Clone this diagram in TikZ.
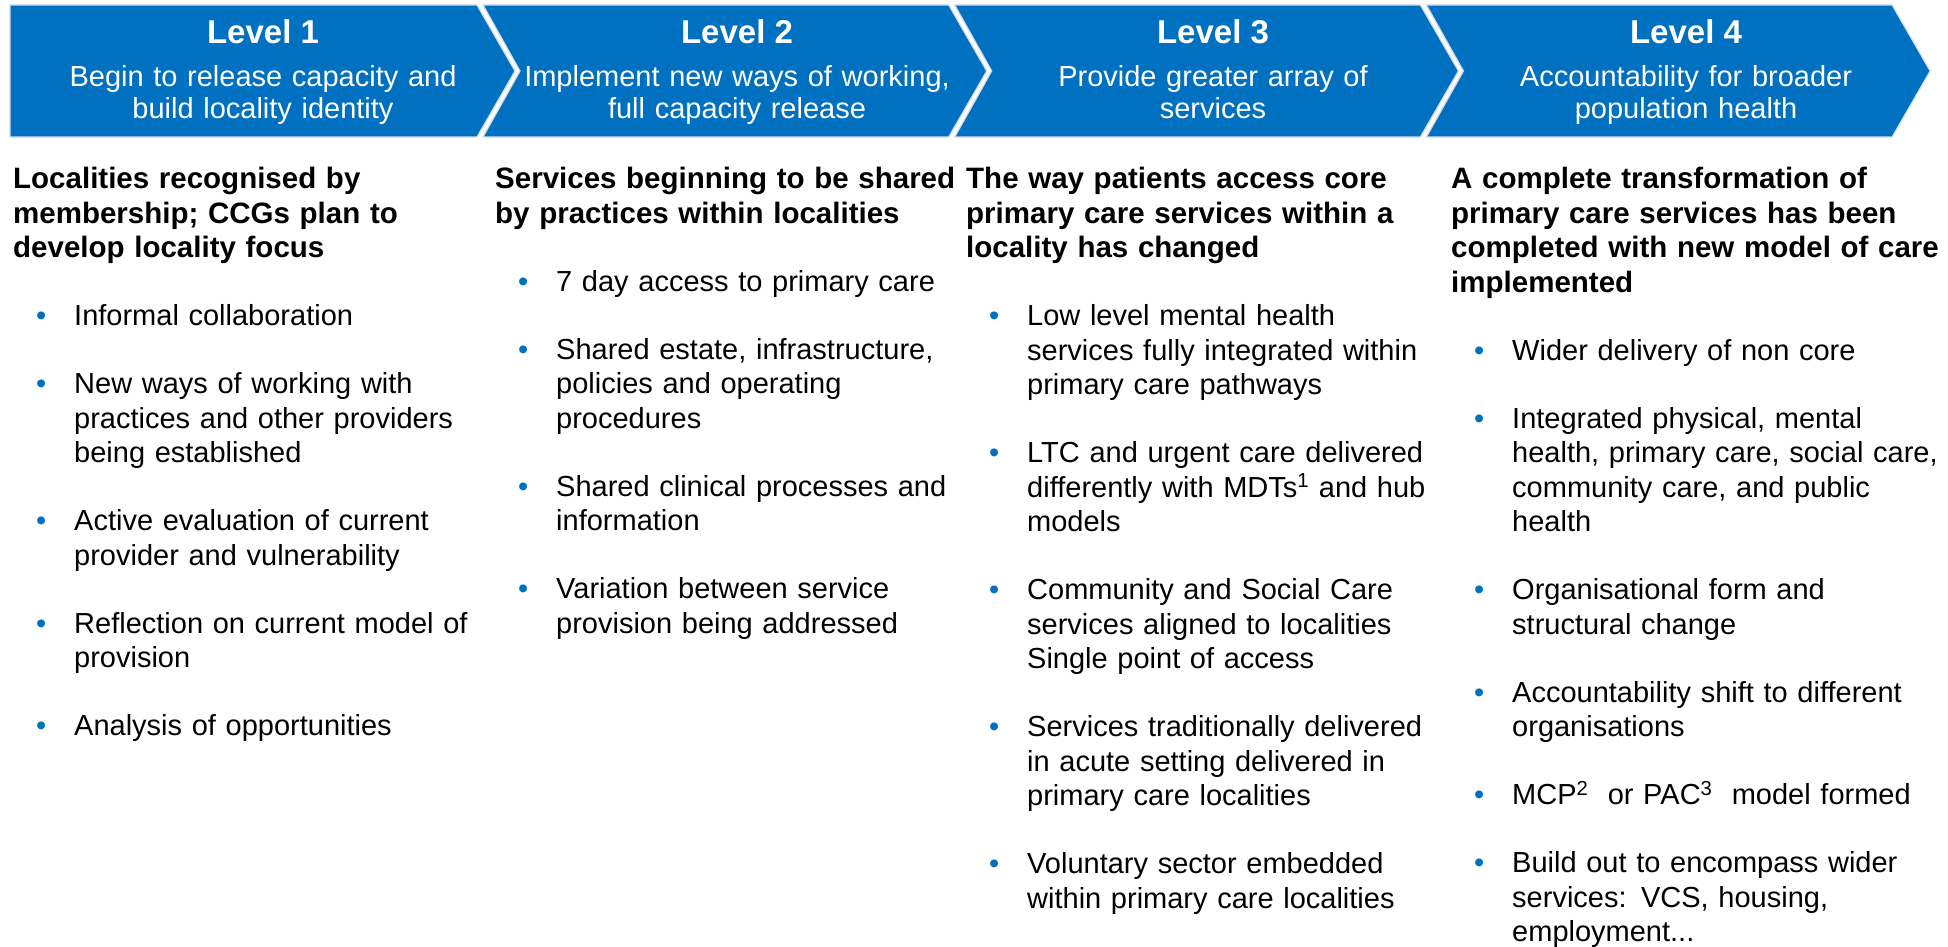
\documentclass[tikz,border=0pt]{standalone}
\usepackage{fontspec}
\setmainfont{Liberation Sans}

\definecolor{levelblue}{RGB}{0,112,192}
\definecolor{edgeblue}{RGB}{208,220,234}

% bold column heading, then switch to the indented body text
\newcommand{\colhead}[1]{{\noindent\bfseries\fontsize{29.5}{34.5}\selectfont #1\par}%
  \fontsize{29}{34.5}\selectfont\setlength{\leftskip}{61pt}}
% one bulleted entry with a hanging blue dot
\newcommand{\bitem}[1]{\par\noindent\llap{\textcolor{levelblue}{•}\hspace{28pt}}#1}

\tikzset{
  levelshape/.style={fill=levelblue, draw=edgeblue, line width=1.2pt},
  leveltitle/.style={text=white, font=\bfseries\fontsize{33}{38}\selectfont,
    anchor=base, inner sep=0pt},
  levelsub/.style={text=white, font=\fontsize{29}{32}\selectfont,
    text width=460pt, align=center, anchor=base, inner sep=0pt},
  column/.style={anchor=base west, inner sep=0pt, text width=500pt,
    align=left, font=\fontsize{29}{34.5}\selectfont},
}

\begin{document}
\begin{tikzpicture}[x=1pt, y=-1pt]
  \fill[white] (0,0) rectangle (1948,947);
  \useasboundingbox (0,0) rectangle (1948,947);

  % header chevrons
  \draw[levelshape] (10,5) -- (477,5) -- (515,71) -- (477,137) -- (10,137) -- cycle;
  \foreach \k in {1,2,3}{
    \pgfmathsetmacro{\xl}{483+471.7*(\k-1)}
    \pgfmathsetmacro{\xr}{477+471.7*\k}
    \draw[levelshape] (\xl,5) -- (\xr,5) -- (\xr+38,71) -- (\xr,137)
      -- (\xl,137) -- (\xl+37,71) -- cycle;
  }

  % header texts
  \node[leveltitle] (l1t) at (263,44) {Level 1};
  \node[levelsub]   (l1s) at (263,87) {Begin to release capacity and\\build locality identity};
  \node[leveltitle] (l2t) at (737,44) {Level 2};
  \node[levelsub]   (l2s) at (737,87) {Implement new ways of working,\\full capacity release};
  \node[leveltitle] (l3t) at (1213,44) {Level 3};
  \node[levelsub]   (l3s) at (1213,87) {Provide greater array of\\services};
  \node[leveltitle] (l4t) at (1686,44) {Level 4};
  \node[levelsub]   (l4s) at (1686,87) {Accountability for broader\\population health};

  % column 1
  \node[column] (c1) at (13,188.5) {\setlength{\parskip}{33.5pt}%
    \colhead{Localities recognised by\\membership; CCGs plan to\\develop locality focus}%
    \bitem{Informal collaboration}
    \bitem{New ways of working with\\practices and other providers\\being established}
    \bitem{Active evaluation of current\\provider and vulnerability}
    \bitem{Reflection on current model of\\provision}
    \bitem{Analysis of opportunities}\par};

  % column 2
  \node[column] (c2) at (495,188.5) {\setlength{\parskip}{33.5pt}%
    \colhead{Services beginning to be shared\\by practices within localities}%
    \bitem{7 day access to primary care}
    \bitem{Shared estate, infrastructure,\\policies and operating\\procedures}
    \bitem{Shared clinical processes and\\information}
    \bitem{Variation between service\\provision being addressed}\par};

  % column 3
  \node[column] (c3) at (966,188.5) {\setlength{\parskip}{33.5pt}%
    \colhead{The way patients access core\\primary care services within a\\locality has changed}%
    \bitem{Low level mental health\\services fully integrated within\\primary care pathways}
    \bitem{LTC and urgent care delivered\\differently with MDTs\textsuperscript{1} and hub\\models}
    \bitem{Community and Social Care\\services aligned to localities\\Single point of access}
    \bitem{Services traditionally delivered\\in acute setting delivered in\\primary care localities}
    \bitem{Voluntary sector embedded\\within primary care localities}\par};

  % column 4
  \node[column] (c4) at (1451,188.5) {\setlength{\parskip}{33.5pt}%
    \colhead{A complete transformation of\\primary care services has been\\completed with new model of care\\implemented}%
    \bitem{Wider delivery of non core}
    \bitem{Integrated physical, mental\\health, primary care, social care,\\community care, and public\\health}
    \bitem{Organisational form and\\structural change}
    \bitem{Accountability shift to different\\organisations}
    \bitem{MCP\textsuperscript{2}\ \ or PAC\textsuperscript{3}\ \ model formed}
    \bitem{Build out to encompass wider\\services: VCS, housing,\\employment...}\par};
\end{tikzpicture}
\end{document}
